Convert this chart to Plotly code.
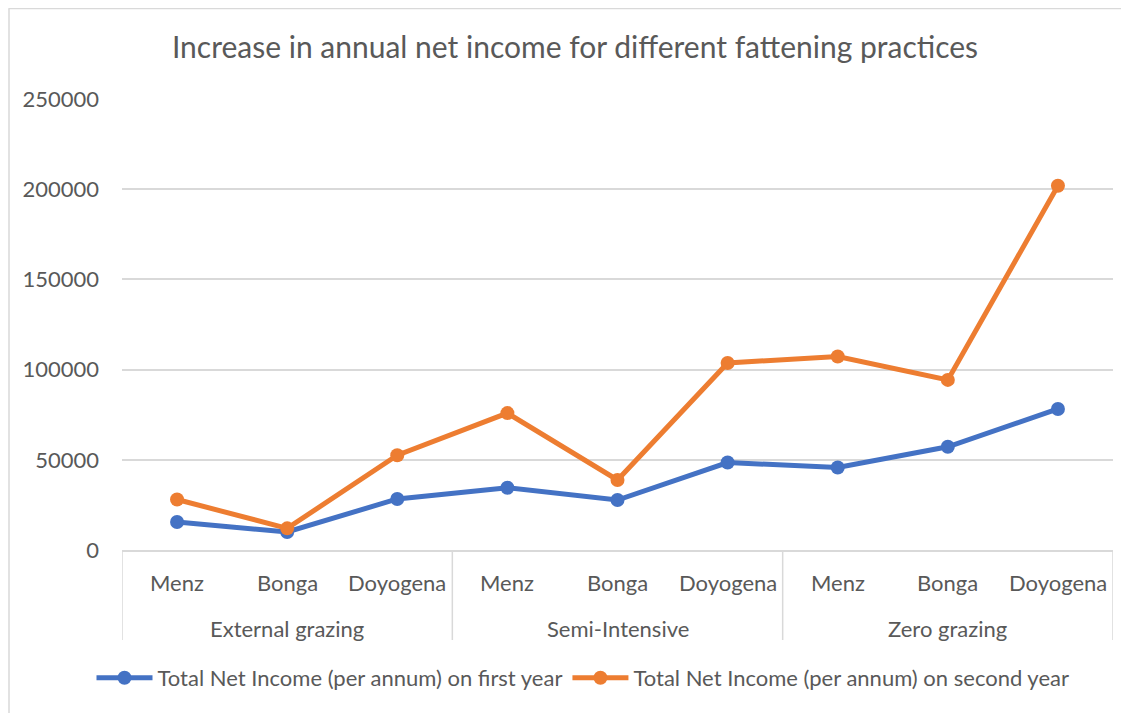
import plotly.graph_objects as go

groups = ["External grazing"] * 3 + ["Semi-Intensive"] * 3 + ["Zero grazing"] * 3
breeds = ["Menz", "Bonga", "Doyogena"] * 3
group_names = ["External grazing", "Semi-Intensive", "Zero grazing"]
first_year = [15500, 10000, 28300, 34500, 27700, 48500, 45700, 57200, 78200]
second_year = [28000, 12000, 52500, 75900, 38800, 103700, 107300, 94300, 201900]
y_ticks = [0, 50000, 100000, 150000, 200000, 250000]

FONT = "Lato"
GREY = "#595959"
LINE = "#D9D9D9"

W, H = 1129, 713
OFF = 8  # page offset of the figure (default body margin)
# plot area in page pixels
L, R, T, B = 122, 1113, 99, 550
Lf, Rf, Tf, Bf = L - OFF, R - OFF, T - OFF, B - OFF
PH = B - T


def py(pix):
    return (B - pix) / PH


def px(pix):
    return (pix - L) / (R - L)


fig = go.Figure()
fig.add_trace(go.Scatter(
    x=[groups, breeds], y=first_year, mode="lines+markers",
    name="Total Net Income (per annum) on first year",
    line=dict(color="#4472C4", width=5), marker=dict(size=14, color="#4472C4")))
fig.add_trace(go.Scatter(
    x=[groups, breeds], y=second_year, mode="lines+markers",
    name="Total Net Income (per annum) on second year",
    line=dict(color="#ED7D31", width=5), marker=dict(size=14, color="#ED7D31")))

fig.update_layout(
    width=W, height=H,
    margin=dict(l=Lf, r=W - Rf, t=Tf, b=H - Bf, autoexpand=False),
    paper_bgcolor="white", plot_bgcolor="white",
    font=dict(family=FONT, size=22, color=GREY),
    title=dict(text="Increase in annual net income for different fattening practices",
               x=(575 - OFF) / W, xanchor="center", xref="container",
               y=1 - (47 - OFF) / H, yanchor="middle",
               font=dict(size=30, color=GREY, family=FONT)),
    legend=dict(orientation="h", x=px(583), xanchor="center", y=py(678), yanchor="middle",
                font=dict(size=22, color=GREY), itemwidth=56),
    showlegend=True,
)
fig.update_yaxes(range=[0, 250000], tickvals=y_ticks, ticktext=[str(v) for v in y_ticks],
                 showgrid=True, gridcolor=LINE, gridwidth=1.5, zeroline=False,
                 ticks="", ticklabelstandoff=22, automargin=False,
                 tickfont=dict(size=22, color=GREY))
fig.update_xaxes(type="multicategory", showgrid=False, showline=True, linecolor=LINE,
                 linewidth=1.5, showdividers=False, showticklabels=False, ticks="",
                 automargin=False, range=[-0.5, 8.5])

# category labels (two levels)
for i, b in enumerate(breeds):
    fig.add_annotation(x=i, xref="x", y=py(582), yref="paper", text=b, showarrow=False,
                       font=dict(size=22, color=GREY), yanchor="middle")
for g, name in enumerate(group_names):
    fig.add_annotation(x=3 * g + 1, xref="x", y=py(628), yref="paper", text=name,
                       showarrow=False, font=dict(size=22, color=GREY), yanchor="middle")
# group dividers
for xd in [-0.5, 2.5, 5.5, 8.5]:
    fig.add_shape(type="line", xref="x", yref="paper", x0=xd, x1=xd, y0=0, y1=py(640),
                  line=dict(color=LINE, width=1.5))

# chart frame (left and top edges)
fig.add_shape(type="line", xref="paper", yref="paper", x0=px(9), x1=px(9), y0=py(8.5), y1=py(721),
              line=dict(color=LINE, width=1.5))
fig.add_shape(type="line", xref="paper", yref="paper", x0=px(8.5), x1=px(1137), y0=py(8.5), y1=py(8.5),
              line=dict(color=LINE, width=1.5))

fig.write_html("out.html")
